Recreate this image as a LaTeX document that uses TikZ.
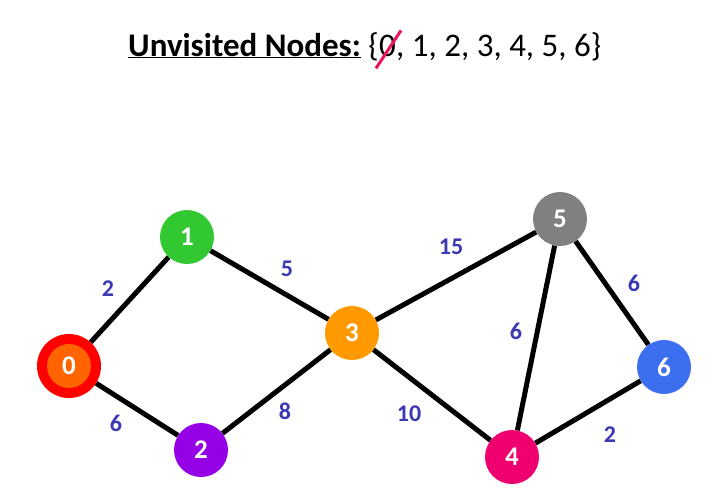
\documentclass[tikz,border=0pt]{standalone}
\usepackage{fontspec}
\setmainfont{Carlito}
\usetikzlibrary{positioning}

\definecolor{vgreen}{RGB}{50,200,50}
\definecolor{vpurple}{RGB}{150,0,230}
\definecolor{vorange}{RGB}{255,153,0}
\definecolor{vpink}{RGB}{240,0,110}
\definecolor{vgrey}{RGB}{128,128,128}
\definecolor{vblue}{RGB}{60,110,240}
\definecolor{vred}{RGB}{255,0,0}
\definecolor{vdark}{RGB}{255,100,0}
\definecolor{wlab}{RGB}{60,55,180}
\definecolor{strike}{RGB}{235,20,90}

\tikzset{
  vert/.style={circle, fill=#1, minimum size=54pt, inner sep=0pt, text=white,
    font=\fontsize{27}{27}\selectfont\bfseries},
  wt/.style={text=wlab, font=\fontsize{24}{24}\selectfont\bfseries},
  edge/.style={line width=5pt},
  ttl/.style={inner sep=0pt, font=\fontsize{33}{33}\selectfont}
}

\begin{document}
\begin{tikzpicture}[x=1pt, y=-1pt]
  \useasboundingbox (0,0) rectangle (726,493);

  % title
  \node[ttl, anchor=base west] (title) at (128,56) {\underline{\textbf{Unvisited Nodes:}} \{};
  \node[ttl, anchor=base west] (zero) at (title.base east) {0};
  \node[ttl, anchor=base west] (rest) at (zero.base east) {, 1, 2, 3, 4, 5, 6\}};
  \draw[strike, line width=3pt] ([xshift=-3pt,yshift=-12pt]zero.south west) -- ([xshift=5pt,yshift=4pt]zero.north east);

  % vertices
  \node[vert=vgrey] (n5) at (560,219) {5};
  \node[vert=vgreen] (n1) at (187,237) {1};
  \node[vert=vorange] (n3) at (352,333) {3};
  \node[vert=vblue] (n6) at (664,367) {6};
  \node[vert=vpurple] (n2) at (201,450) {2};
  \node[vert=vpink] (n4) at (512,457) {4};
  \node[vert=vred, minimum size=64pt] (n0) at (69,366) {};
  \node[vert=vdark, minimum size=44pt] (n0in) at (n0) {0};

  % edges
  \draw[edge] (n0) -- (n1);
  \draw[edge] (n0) -- (n2);
  \draw[edge] (n1) -- (n3);
  \draw[edge] (n2) -- (n3);
  \draw[edge] (n3) -- (n5);
  \draw[edge] (n3) -- (n4);
  \draw[edge] (n4) -- (n5);
  \draw[edge] (n5) -- (n6);
  \draw[edge] (n4) -- (n6);

  % weights
  \node[wt] (w01) at (108,289) {2};
  \node[wt] (w02) at (116,423) {6};
  \node[wt] (w13) at (287,269) {5};
  \node[wt] (w23) at (285,411) {8};
  \node[wt] (w35) at (451,247) {15};
  \node[wt] (w34) at (409,414) {10};
  \node[wt] (w45) at (516,331) {6};
  \node[wt] (w56) at (634,283) {6};
  \node[wt] (w46) at (610,435) {2};
\end{tikzpicture}
\end{document}
